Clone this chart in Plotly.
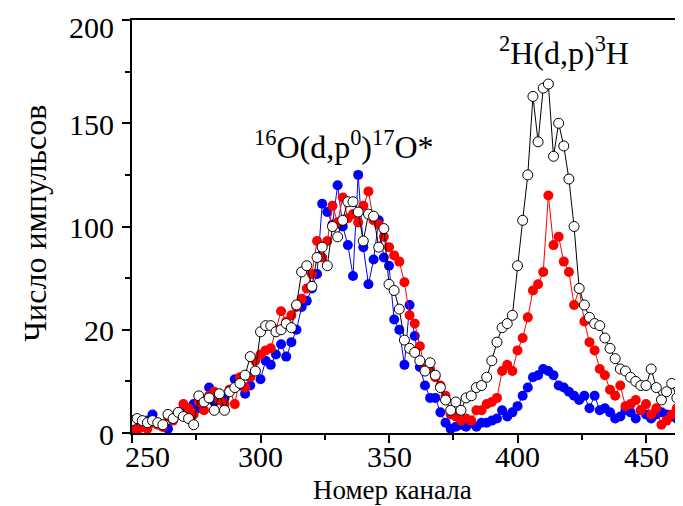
import plotly.graph_objects as go

channels = [250, 252, 254, 256, 258, 260, 262, 264, 266, 268,
            270, 272, 274, 276, 278, 280, 282, 284, 286, 288,
            290, 292, 294, 296, 298, 300, 302, 304, 306, 308,
            310, 312, 314, 316, 318, 320, 322, 324, 326, 328,
            330, 332, 334, 336, 338, 340, 342, 344, 346, 348,
            350, 352, 354, 356, 358, 360, 362, 364, 366, 368,
            370, 372, 374, 376, 378, 380, 382, 384, 386, 388,
            390, 392, 394, 396, 398, 400, 402, 404, 406, 408,
            410, 412, 414, 416, 418, 420, 422, 424, 426, 428,
            430, 432, 434, 436, 438, 440, 442, 444, 446, 448,
            450, 452, 454, 456, 458, 460, 462, 464, 466, 468]

counts_blue = [2, 4, 3, 6, 9, 5, 3, 2, 7, 9,
               11, 8, 14, 12, 16, 22, 15, 19, 17, 21,
               26, 23, 19, 23, 30, 26, 35, 33, 38, 43,
               37, 44, 50, 61, 64, 70, 77, 111, 107, 101,
               120, 100, 91, 76, 125, 90, 72, 84, 103, 85,
               81, 55, 50, 33, 62, 47, 32, 23, 17, 17,
               10, 5, 2, 3, 4, 3, 5, 3, 5, 5,
               6, 7, 11, 8, 10, 13, 18, 22, 27, 28,
               31, 30, 28, 23, 22, 20, 18, 16, 18, 12,
               18, 11, 12, 10, 7, 8, 11, 10, 7, 11,
               9, 7, 9, 10, 9, 8, 7, 10, 7, 9]

counts_red = [3, 1, 3, 2, 5, 4, 3, 8, 6, 10,
              14, 12, 9, 15, 11, 18, 20, 16, 14, 21,
              14, 27, 22, 27, 35, 38, 40, 41, 50, 59,
              54, 57, 61, 65, 70, 77, 93, 85, 93, 110,
              102, 114, 104, 106, 102, 110, 117, 103, 101, 95,
              90, 86, 83, 73, 57, 53, 42, 31, 31, 27,
              23, 18, 9, 8, 6, 7, 6, 11, 11, 14,
              15, 17, 30, 33, 30, 40, 46, 56, 69, 72,
              78, 115, 91, 95, 83, 78, 62, 70, 54, 44,
              40, 31, 28, 21, 18, 23, 13, 14, 16, 11,
              14, 9, 12, 4, 6, 9, 12, 11, 7, 8]

counts_white = [6, 7, 6, 5, 6, 5, 4, 9, 7, 10,
                8, 7, 4, 18, 15, 17, 11, 19, 11, 20,
                22, 24, 28, 37, 30, 49, 52, 52, 49, 50,
                53, 51, 62, 78, 81, 71, 85, 90, 81, 100,
                95, 103, 112, 112, 107, 93, 106, 105, 90, 99,
                72, 69, 60, 45, 41, 39, 35, 30, 34, 28,
                22, 16, 11, 15, 11, 17, 18, 22, 23, 27,
                35, 44, 51, 53, 57, 81, 103, 125, 163, 141,
                167, 169, 134, 150, 139, 123, 100, 70, 62, 56,
                53, 52, 46, 41, 36, 31, 30, 27, 25, 23,
                23, 31, 22, 16, 20, 24, 17, 6, 18, 15]

y_tick_vals = [0, 50, 100, 150, 200]
y_tick_text = ["0", "20", "100", "150", "200"]
y_label_nudge = [-1, -1, -1, -1, -7]
x_tick_vals = [250, 300, 350, 400, 450]
x_tick_text = ["250", "300", "350", "400", "450"]
x_label_nudge = [15, 0, 0, 0, 0]

FONT = "Liberation Serif"
FS = 30

fig = go.Figure()
fig.add_trace(go.Scatter(
    x=channels, y=counts_blue, mode="lines+markers",
    line=dict(color="#0000ff", width=1),
    marker=dict(color="#0000ff", size=10, line=dict(width=0)),
    showlegend=False))
fig.add_trace(go.Scatter(
    x=channels, y=counts_red, mode="lines+markers",
    line=dict(color="#ff0000", width=1),
    marker=dict(color="#ff0000", size=10, line=dict(width=0)),
    showlegend=False))
fig.add_trace(go.Scatter(
    x=channels, y=counts_white, mode="lines+markers",
    line=dict(color="#000000", width=1),
    marker=dict(color="#ffffff", size=10, line=dict(color="#000000", width=1)),
    showlegend=False))

# reaction labels
fig.add_annotation(x=332.5, y=139.5, xref="x", yref="y",
                   text="<sup>16</sup>O(d,p<sup>0</sup>)<sup>17</sup>O*",
                   showarrow=False, font=dict(family=FONT, size=32, color="black"))
fig.add_annotation(x=418, y=185, xref="x", yref="y",
                   text="<sup>2</sup>H(d,p)<sup>3</sup>H",
                   showarrow=False, font=dict(family=FONT, size=32, color="black"))

# tick labels placed on the axis values
for v, t, dx in zip(x_tick_vals, x_tick_text, x_label_nudge):
    fig.add_annotation(x=v, y=0, xref="x", yref="paper", text=t,
                       showarrow=False, xanchor="center", yanchor="top",
                       xshift=dx, yshift=-5,
                       font=dict(family=FONT, size=FS, color="black"))
for v, t, dy in zip(y_tick_vals, y_tick_text, y_label_nudge):
    fig.add_annotation(x=0, y=v, xref="paper", yref="y", text=t,
                       showarrow=False, xanchor="right", yanchor="middle",
                       xshift=-16, yshift=dy,
                       font=dict(family=FONT, size=FS, color="black"))

# axis titles
fig.add_annotation(x=0.466, y=-0.138, xref="paper", yref="paper",
                   text="Номер канала", showarrow=False,
                   xanchor="center", yanchor="middle",
                   font=dict(family=FONT, size=27, color="black"))
fig.add_annotation(x=-0.1726, y=0.508, xref="paper", yref="paper",
                   text="Число импульсов", showarrow=False, textangle=-90,
                   xanchor="center", yanchor="middle",
                   font=dict(family=FONT, size=32, color="black"))

fig.update_layout(
    width=683, height=506,
    margin=dict(l=124, r=0, t=12, b=81, autoexpand=False),
    plot_bgcolor="white", paper_bgcolor="white",
    font=dict(family=FONT, size=FS, color="black"),
    xaxis=dict(
        range=[250, 467.5], showline=True, linecolor="black", linewidth=1.5,
        mirror=True, showgrid=False, zeroline=False,
        ticks="outside", ticklen=8, tickwidth=1.5, tickcolor="black",
        tickmode="array", tickvals=x_tick_vals, showticklabels=False,
        minor=dict(ticks="outside", ticklen=5, tickwidth=1.5, tickcolor="black",
                   tickvals=[275, 325, 375, 425, 475]),
        automargin=False,
    ),
    yaxis=dict(
        range=[0, 200], showline=True, linecolor="black", linewidth=1.5,
        showgrid=False, zeroline=False,
        ticks="outside", ticklen=8, tickwidth=1.5, tickcolor="black",
        tickmode="array", tickvals=y_tick_vals, showticklabels=False,
        minor=dict(ticks="outside", ticklen=5, tickwidth=1.5, tickcolor="black",
                   tickvals=[25, 75, 125, 175]),
        automargin=False,
    ),
)

fig.write_html("out.html")
